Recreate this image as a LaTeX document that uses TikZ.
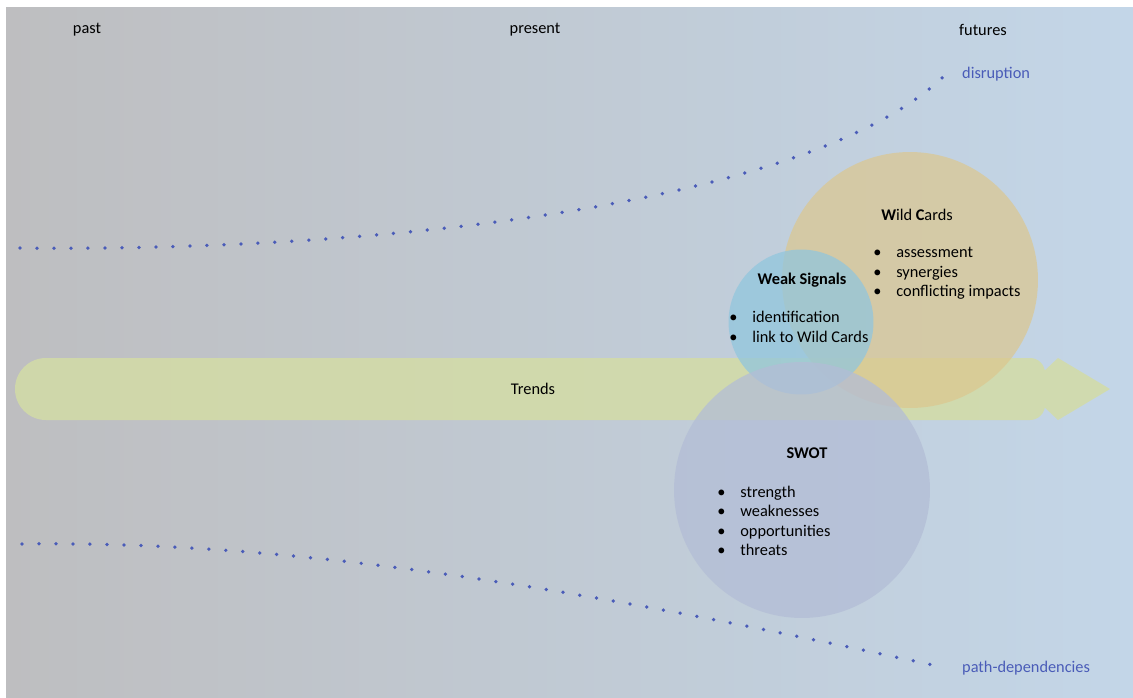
\documentclass[tikz,border=0pt]{standalone}
\usepackage{fontspec}
\setmainfont{Carlito}
\usetikzlibrary{positioning}

\definecolor{bgleft}{HTML}{BEBEC0}
\definecolor{bgright}{HTML}{C3D6E8}
\definecolor{dotblue}{HTML}{4A5CB8}
\definecolor{trendcol}{HTML}{D3DCA6}
\definecolor{wildcol}{HTML}{DCC78E}
\definecolor{weakcol}{HTML}{92C6DD}
\definecolor{swotcol}{HTML}{B3BDD6}

\newcommand{\bul}{\makebox[0.46cm][l]{\textbullet}}

\begin{document}
\begin{tikzpicture}[x=0.02cm,y=-0.02cm,
    every node/.style={font=\fontsize{9.3}{11.1}\selectfont},
    dotline/.style={dotblue,line width=0.075cm,line cap=round,dash pattern=on 0pt off 0.34cm},
    bubble/.style={circle,inner sep=0,fill opacity=0.75},
    listtext/.style={align=left,inner sep=0,anchor=west}]
    \useasboundingbox (0,0) rectangle (1133,697);
    \shade[left color=bgleft,right color=bgright] (6,7) rectangle (1133,697);

    \node (past) at (87,30) {past};
    \node (present) at (535,30) {present};
    \node (futures) at (983,30) {futures};

    % dotted lines
    \coordinate (disstart) at (20,248);
    \coordinate (disend) at (946,74);
    \coordinate (pathstart) at (22,544);
    \coordinate (pathend) at (946,668);
    \draw[dotline] (disstart) .. controls (400,252) and (820,200) .. (disend);
    \draw[dotline] (pathstart) .. controls (300,540) and (600,592) .. (pathend);
    \node[right=0.2cm of disend,text=dotblue] (disruption) {disruption};
    \node[right=0.2cm of pathend,text=dotblue] (pathdep) {path-dependencies};

    % trends
    \fill[trendcol,fill opacity=0.85] [rounded corners=0.62cm] (530,358) -- (15,358) -- (15,420) -- (530,420)
        [rounded corners=0.3cm] -- (1045,420) -- (1045,358) -- cycle
        [sharp corners] (1025,389) -- (1058,420) -- (1110,389) -- (1058,358) -- cycle;
    \node (trends) at (533,389) {Trends};

    % circles
    \node[bubble,fill=wildcol,fill opacity=0.7,minimum size=5.12cm] (wild) at (910,280) {};
    \node[bubble,fill=weakcol,minimum size=2.9cm] (weak) at (801,322) {};
    \node[bubble,fill=swotcol,minimum size=5.12cm] (swot) at (802,490) {};

    \node (wildtitle) at (917,215) {\textbf{W}ild \textbf{C}ards};
    \node[listtext] (wildlist) at (873,273.5) {\bul assessment\\ \bul synergies\\ \bul conflicting impacts};

    \node (weaktitle) at (802,280) {\textbf{Weak Signals}};
    \node[listtext] (weaklist) at (729,327) {\bul identification\\ \bul link to Wild Cards};

    \node (swottitle) at (807,453) {\textbf{SWOT}};
    \node[listtext] (swotlist) at (717,521) {\bul strength\\ \bul weaknesses\\ \bul opportunities\\ \bul threats};

\end{tikzpicture}
\end{document}
